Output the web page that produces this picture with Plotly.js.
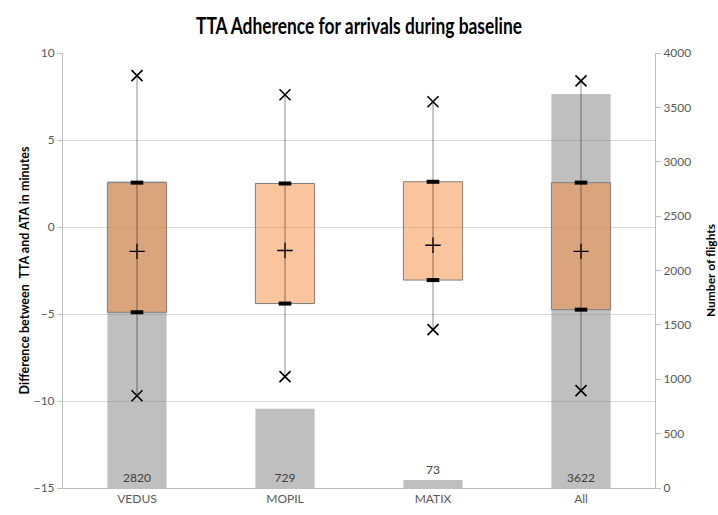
<!DOCTYPE html>
<html>
<head>
<meta charset="utf-8">
<script src="https://cdn.plot.ly/plotly-3.0.1.min.js"></script>
<style>html,body{margin:0;padding:0;background:#fff;}#chart{width:718px;height:515px;}</style>
</head>
<body>
<div id="chart"></div>
<script>
// ---- data ----
var categories = ["VEDUS", "MOPIL", "MATIX", "All"];
var flightCounts = [2820, 729, 73, 3622];
var maxValues = [8.7, 7.6, 7.2, 8.4];
var q3Values = [2.55, 2.5, 2.6, 2.55];
var meanValues = [-1.4, -1.35, -1.05, -1.4];
var q1Values = [-4.9, -4.4, -3.05, -4.75];
var minValues = [-9.7, -8.6, -5.9, -9.4];
var countLabels = flightCounts.map(String);

var tickFont = {family: "Lato, 'Open Sans', sans-serif", size: 12, color: "#595959"};

var boxHeights = q3Values.map(function (v, i) { return v - q1Values[i]; });
var errPlus = maxValues.map(function (v, i) { return v - meanValues[i]; });
var errMinus = meanValues.map(function (v, i) { return v - minValues[i]; });

var traces = [
  {
    type: "bar", x: categories, y: flightCounts, xaxis: "x", yaxis: "y",
    width: 0.4,
    marker: {color: "rgba(128,128,128,0.5)", line: {width: 0}},
    text: countLabels,
    textposition: ["inside", "inside", "outside", "inside"],
    insidetextanchor: "start",
    constraintext: "none",
    cliponaxis: false,
    textfont: {family: tickFont.family, size: 12, color: "#404040"},
    hoverinfo: "skip", showlegend: false
  },
  {
    type: "bar", x: categories, y: boxHeights, base: q1Values, xaxis: "x", yaxis: "y2",
    width: 0.4,
    marker: {color: "rgba(245,140,60,0.5)", line: {color: "#7F7F7F", width: 1}},
    hoverinfo: "skip", showlegend: false
  },
  {
    type: "scatter", mode: "markers", x: categories, y: meanValues, xaxis: "x", yaxis: "y2",
    error_y: {type: "data", symmetric: false, array: errPlus, arrayminus: errMinus,
              width: 0, color: "rgba(0,0,0,0.3)", thickness: 1.5},
    marker: {symbol: "cross-thin-open", size: 11, color: "#000", line: {color: "#000", width: 1.3}},
    hoverinfo: "skip", showlegend: false
  },
  {
    type: "scatter", mode: "markers", x: categories.concat(categories), y: maxValues.concat(minValues),
    xaxis: "x", yaxis: "y2",
    marker: {symbol: "x-thin-open", size: 11, color: "#000", line: {color: "#1a1a1a", width: 1.6}},
    hoverinfo: "skip", showlegend: false
  },
  {
    type: "scatter", mode: "markers", x: categories.concat(categories), y: q3Values.concat(q1Values),
    xaxis: "x", yaxis: "y2",
    marker: {symbol: "line-ew-open", size: 9, color: "#000", line: {color: "#000", width: 4}},
    hoverinfo: "skip", showlegend: false
  }
];

var layout = {
  width: 718, height: 515,
  margin: {l: 63, r: 63, t: 53, b: 27, pad: 0},
  paper_bgcolor: "#fff", plot_bgcolor: "rgba(0,0,0,0)",
  showlegend: false,
  barmode: "overlay",
  title: {
    text: "<b>TTA Adherence for arrivals during baseline</b>",
    font: {family: "Lato, 'Open Sans', sans-serif", size: 23, color: "#000"},
    x: 0.5, xanchor: "center", y: 0.95, yanchor: "middle"
  },
  xaxis: {
    type: "category", categoryorder: "array", categoryarray: categories,
    range: [-0.5, 3.5], showline: true, linecolor: "#BFBFBF", linewidth: 1,
    ticks: "", showgrid: false, zeroline: false, tickfont: tickFont, fixedrange: true
  },
  yaxis: {
    side: "right", range: [0, 4000], dtick: 500, tick0: 0,
    showgrid: false, zeroline: false, showline: true, linecolor: "#BFBFBF", linewidth: 1,
    ticks: "outside", ticklen: 5, tickcolor: "#BFBFBF", tickfont: tickFont,
    title: {text: "<b>Number of flights</b>", font: {family: tickFont.family, size: 12, color: "#000"}, standoff: 16},
    fixedrange: true
  },
  yaxis2: {
    overlaying: "y", side: "left", range: [-15, 10], dtick: 5, tick0: 0,
    showgrid: true, gridcolor: "#D9D9D9", gridwidth: 1, zeroline: false,
    showline: true, linecolor: "#BFBFBF", linewidth: 1,
    ticks: "outside", ticklen: 5, tickcolor: "#BFBFBF", tickfont: tickFont,
    title: {text: "<b>Difference between\u00a0 TTA and ATA in minutes</b>", font: {family: tickFont.family, size: 12.5, color: "#000"}, standoff: 1},
    fixedrange: true
  }
};

Plotly.newPlot("chart", traces, layout, {displayModeBar: false, staticPlot: true}).then(function (gd) {
  // the reference title is set in a condensed face; squeeze the real text to its width
  var t = gd.querySelector(".gtitle");
  if (t) {
    t.setAttribute("textLength", "326");
    t.setAttribute("lengthAdjust", "spacingAndGlyphs");
  }
});
</script>
</body>
</html>
